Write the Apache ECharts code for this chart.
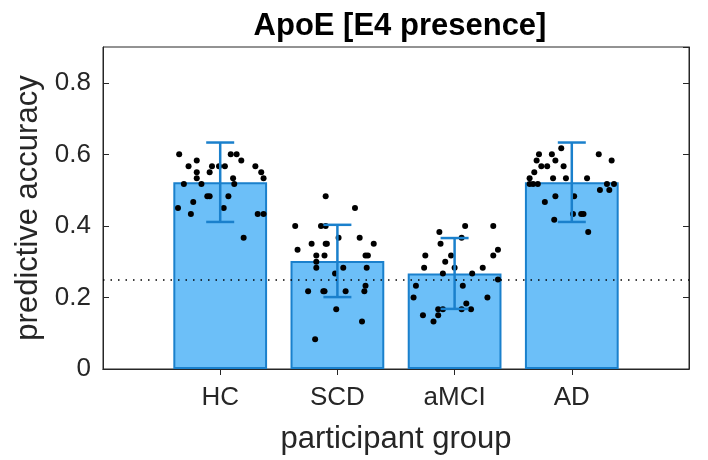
<!DOCTYPE html>
<html>
<head>
<meta charset="utf-8">
<script src="https://cdn.jsdelivr.net/npm/echarts@6/dist/echarts.min.js"></script>
<style>html,body{margin:0;padding:0;background:#fff}#c{width:708px;height:460px}</style>
</head>
<body>
<div id="c"></div>
<script>
// ---- data ----
const categories = ['HC', 'SCD', 'aMCI', 'AD'];
const meanAcc = [0.522, 0.302, 0.267, 0.522];
const sdAcc = [0.111, 0.101, 0.099, 0.111];
const chanceLevel = 0.25;
const yMin = 0, yMax = 0.9, yStep = 0.2;

const hcJitter = [-0.35,-0.20,-0.27,-0.07,-0.01,0.04,0.09,0.14,0.18,0.30,0.35,0.37,-0.20,-0.09,-0.20,0.11,-0.31,-0.16,0.12,-0.11,-0.09,0.07,-0.23,-0.36,0.03,-0.25,0.32,0.37,0.20];
const hcAcc = [0.600,0.583,0.567,0.567,0.567,0.567,0.600,0.600,0.583,0.567,0.550,0.533,0.550,0.550,0.533,0.533,0.517,0.517,0.517,0.483,0.483,0.483,0.467,0.450,0.450,0.433,0.433,0.433,0.367];

const scdJitter = [-0.10,0.15,-0.36,-0.14,-0.10,0.01,0.19,-0.22,-0.10,-0.09,0.31,-0.34,-0.18,-0.11,0.24,0.26,-0.18,-0.18,0.05,0.25,-0.02,0.24,-0.25,-0.12,-0.11,0.07,0.23,-0.01,0.21,-0.19];
const scdAcc = [0.483,0.450,0.400,0.400,0.400,0.367,0.367,0.350,0.350,0.350,0.350,0.333,0.317,0.317,0.317,0.317,0.300,0.283,0.283,0.283,0.267,0.233,0.217,0.217,0.217,0.217,0.217,0.167,0.133,0.083];

const amciJitter = [0.09,0.33,-0.13,0.06,-0.12,0.37,-0.25,-0.03,0.33,-0.08,-0.26,0.00,0.24,-0.10,0.15,0.37,-0.33,0.07,-0.35,0.28,0.10,-0.14,-0.10,0.06,0.14,-0.14,-0.27,-0.18];
const amciAcc = [0.400,0.400,0.383,0.367,0.350,0.333,0.317,0.317,0.317,0.300,0.283,0.283,0.283,0.267,0.267,0.250,0.233,0.233,0.200,0.200,0.183,0.167,0.167,0.167,0.167,0.150,0.150,0.133];

const adJitter = [-0.09,-0.28,-0.17,0.23,-0.30,-0.14,0.34,-0.26,-0.21,-0.07,-0.32,-0.36,-0.16,-0.05,0.13,-0.36,-0.33,-0.29,0.30,0.36,0.24,0.32,-0.14,0.02,-0.23,0.01,0.08,0.10,-0.15,0.14];
const adAcc = [0.617,0.600,0.600,0.600,0.583,0.583,0.583,0.567,0.567,0.567,0.550,0.533,0.533,0.533,0.533,0.517,0.517,0.517,0.517,0.517,0.500,0.500,0.483,0.483,0.467,0.433,0.433,0.433,0.417,0.383];

// ---- build ----
const FONT = 'Liberation Sans';
const TXT = '#262626';
const FILL = '#6cbff8';
const EDGE = '#1a80cc';

const axisCats = [''].concat(categories, ['']);   // positions 0..5
const barData = [null].concat(meanAcc, [null]);
const groups = [[hcJitter, hcAcc], [scdJitter, scdAcc], [amciJitter, amciAcc], [adJitter, adAcc]];
const points = [];
groups.forEach((g, gi) => g[0].forEach((j, k) => points.push([gi + 1 + j, g[1][k]])));
const errData = meanAcc.map((m, i) => [i + 1, m - sdAcc[i], m + sdAcc[i]]);

const tickInterval = (idx) => idx >= 1 && idx <= categories.length;

const chart = echarts.init(document.getElementById('c'), null, { renderer: 'canvas' });
chart.setOption({
  animation: false,
  backgroundColor: '#fff',
  title: {
    text: 'ApoE [E4 presence]',
    left: 395, top: 6, textAlign: 'center',
    textStyle: { fontFamily: FONT, fontWeight: 'bold', fontSize: 31, color: '#000' }
  },
  grid: { left: 103, right: 19, top: 47, bottom: 90, show: true, borderColor: TXT, borderWidth: 1, backgroundColor: 'transparent' },
  xAxis: [
    {
      type: 'category', data: axisCats, boundaryGap: false, position: 'bottom',
      axisLine: { lineStyle: { color: TXT, width: 1 } },
      axisTick: { inside: true, length: 6, interval: tickInterval, lineStyle: { color: TXT } },
      axisLabel: { interval: 0, margin: 16, fontFamily: FONT, fontSize: 26, color: TXT },
      name: 'participant group', nameLocation: 'middle', nameGap: 55,
      nameTextStyle: { fontFamily: FONT, fontSize: 31, color: TXT }
    },
    {
      type: 'category', data: axisCats, boundaryGap: false, position: 'top',
      axisLine: { lineStyle: { color: TXT, width: 1 } },
      axisTick: { inside: true, length: 6, interval: tickInterval, lineStyle: { color: TXT } },
      axisLabel: { show: false }
    },
    { type: 'value', min: 0, max: categories.length + 1, show: false }
  ],
  yAxis: [
    {
      type: 'value', min: yMin, max: yMax, interval: yStep, position: 'left',
      axisLine: { show: true, lineStyle: { color: TXT, width: 1 } },
      axisTick: { show: true, inside: true, length: 6, lineStyle: { color: TXT } },
      axisLabel: { showMaxLabel: false, margin: 12, fontFamily: FONT, fontSize: 26, color: TXT },
      splitLine: { show: false },
      name: 'predictive accuracy', nameLocation: 'middle', nameGap: 57, nameRotate: 90,
      nameTextStyle: { fontFamily: FONT, fontSize: 31, color: TXT }
    },
    {
      type: 'value', min: yMin, max: yMax, interval: yStep, position: 'right',
      axisLine: { show: true, lineStyle: { color: TXT, width: 1 } },
      axisTick: { show: true, inside: true, length: 6, lineStyle: { color: TXT } },
      axisLabel: { show: false }, splitLine: { show: false }
    }
  ],
  series: [
    {
      type: 'bar', xAxisIndex: 0, yAxisIndex: 0, data: barData, barWidth: '80%',
      itemStyle: { color: FILL, borderColor: EDGE, borderWidth: 2 }, z: 2
    },
    {
      type: 'scatter', xAxisIndex: 2, yAxisIndex: 0, data: points, symbolSize: 6,
      itemStyle: { color: '#000', opacity: 1 }, z: 3,
      markLine: {
        silent: true, symbol: 'none', label: { show: false },
        lineStyle: { color: '#000', type: [1.5, 6], width: 1.5 },
        data: [{ yAxis: chanceLevel }]
      }
    },
    {
      type: 'custom', xAxisIndex: 2, yAxisIndex: 0, data: errData, z: 4,
      renderItem: function (params, api) {
        const x = api.value(0);
        const lo = api.coord([x, api.value(1)]);
        const hi = api.coord([x, api.value(2)]);
        const cap = 14;
        const st = { stroke: EDGE, lineWidth: 2.5 };
        return {
          type: 'group', children: [
            { type: 'line', shape: { x1: lo[0], y1: lo[1], x2: hi[0], y2: hi[1] }, style: st },
            { type: 'line', shape: { x1: lo[0] - cap, y1: lo[1], x2: lo[0] + cap, y2: lo[1] }, style: st },
            { type: 'line', shape: { x1: hi[0] - cap, y1: hi[1], x2: hi[0] + cap, y2: hi[1] }, style: st }
          ]
        };
      }
    }
  ]
});
</script>
</body>
</html>
